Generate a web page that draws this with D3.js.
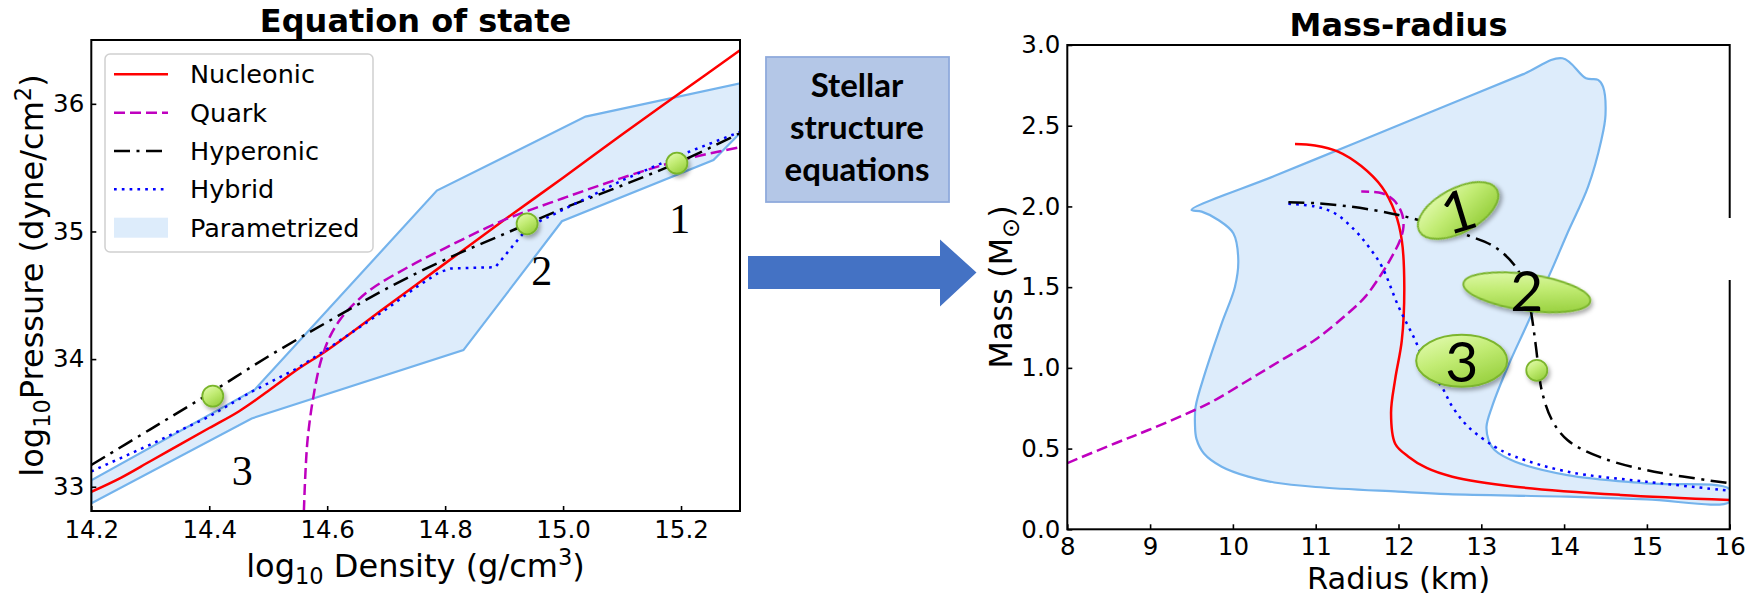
<!DOCTYPE html>
<html>
<head>
<meta charset="utf-8">
<script src="https://cdn.jsdelivr.net/npm/d3@7"></script>
<style>
  body { margin: 0; background: #ffffff; }
  svg { display: block; }
  text { font-family: "DejaVu Sans", sans-serif; fill: #000; }
</style>
</head>
<body>
<svg id="fig" width="1760" height="597"></svg>
<script>
// ---------- Equation of state: [log10 density (g/cm^3), log10 pressure (dyne/cm^2)] ----------
const eosTicksX = [14.2, 14.4, 14.6, 14.8, 15.0, 15.2];
const eosTicksY = [33, 34, 35, 36];

const nucleonicEoS = [[14.2, 32.96], [14.25, 33.07], [14.3, 33.2], [14.35, 33.33], [14.4, 33.46], [14.45, 33.59],
  [14.5, 33.75], [14.55, 33.92], [14.6, 34.07], [14.7, 34.41], [14.8, 34.75], [14.9, 35.09], [15.0, 35.42],
  [15.1, 35.76], [15.2, 36.09], [15.3, 36.42]];
const quarkEoS = [[14.5605, 32.81], [14.563, 33.1], [14.567, 33.38], [14.576, 33.69], [14.589, 33.98], [14.604, 34.17],
  [14.622, 34.31], [14.645, 34.43], [14.675, 34.55], [14.737, 34.72], [14.8, 34.87], [14.9, 35.09], [15.0, 35.26],
  [15.1, 35.42], [15.2, 35.56], [15.3, 35.66]];
const hyperonicEoS = [[14.2, 33.17], [14.3, 33.45], [14.4, 33.73], [14.5, 34.02], [14.6, 34.29], [14.7, 34.55],
  [14.8, 34.78], [14.9, 34.98], [15.0, 35.18], [15.1, 35.36], [15.2, 35.55], [15.3, 35.77]];
const hybridEoS = [[14.2, 33.12], [14.3, 33.33], [14.4, 33.55], [14.47, 33.74], [14.55, 33.93], [14.607, 34.1],
  [14.7, 34.39], [14.75, 34.56], [14.79, 34.68], [14.81, 34.71], [14.885, 34.72], [14.935, 35.0], [14.96, 35.08],
  [15.0, 35.17], [15.1, 35.4], [15.2, 35.6], [15.3, 35.78]];
const paramUpperEoS = [[14.2, 33.05], [14.477, 33.76], [14.786, 35.32], [15.038, 35.9], [15.3, 36.16]];
const paramLowerEoS = [[14.2, 32.87], [14.472, 33.535], [14.831, 34.07], [14.998, 35.08], [15.255, 35.56], [15.3, 35.77]];

const eosMarkers = [[14.406, 33.71], [14.939, 35.06], [15.193, 35.535]];
const eosMarkerLabels = ["3", "2", "1"];
const eosMarkerLabelPos = [[14.456, 33.014], [14.964, 34.58], [15.198, 34.985]];

// ---------- Mass-radius: [radius (km), mass (solar masses)] ----------
const mrTicksX = [8, 9, 10, 11, 12, 13, 14, 15, 16];
const mrTicksY = [0, 0.5, 1.0, 1.5, 2.0, 2.5, 3.0];

const nucleonicMR = [[10.75, 2.387], [10.99, 2.378], [11.27, 2.34], [11.55, 2.25], [11.8, 2.12], [11.96, 1.96],
  [12.04, 1.79], [12.07, 1.5], [12.04, 1.17], [11.96, 0.93], [11.91, 0.72], [11.96, 0.53], [12.12, 0.45],
  [12.34, 0.38], [12.65, 0.326], [13.41, 0.264], [14.68, 0.213], [16.0, 0.182]];
const quarkMR = [[8.0, 0.41], [8.58, 0.533], [8.98, 0.615], [9.54, 0.739], [9.8, 0.805], [10.19, 0.925],
  [10.59, 1.049], [10.99, 1.173], [11.39, 1.338], [11.6, 1.441], [11.8, 1.586], [11.92, 1.689], [12.02, 1.792],
  [12.06, 1.875], [12.04, 1.958], [11.94, 2.04], [11.8, 2.082], [11.55, 2.092]];
const hyperonicMR = [[10.67, 2.026], [11.0, 2.02], [11.4, 2.0], [11.8, 1.968], [12.0, 1.947], [12.24, 1.916],
  [12.55, 1.87], [12.84, 1.82], [13.16, 1.75], [13.41, 1.63], [13.55, 1.48], [13.6, 1.35], [13.66, 1.13],
  [13.69, 1.0], [13.73, 0.86], [13.85, 0.68], [14.04, 0.553], [14.42, 0.45], [14.99, 0.367], [16.0, 0.285]];
const hybridMR = [[10.67, 2.016], [10.99, 2.0], [11.23, 1.958], [11.47, 1.854], [11.64, 1.75], [11.8, 1.627],
  [12.0, 1.38], [12.2, 1.173], [12.36, 0.99], [12.52, 0.884], [12.65, 0.76], [12.84, 0.636], [13.16, 0.512],
  [13.41, 0.45], [14.04, 0.357], [14.99, 0.295], [16.0, 0.239]];
// outline of the parametrized region, traced clockwise from its left tip
const paramMR = [[9.5, 1.978], [10.5, 2.188], [11.5, 2.398], [12.5, 2.608], [13.5, 2.818], [13.98, 2.918],
  [14.264, 2.794], [14.41, 2.784], [14.47, 2.742], [14.5, 2.567], [14.45, 2.412], [14.29, 2.123], [14.04, 1.834],
  [13.85, 1.607], [13.54, 1.255], [13.32, 1.007], [13.13, 0.76], [13.063, 0.636], [13.09, 0.55], [13.16, 0.491],
  [13.41, 0.419], [14.04, 0.336], [14.99, 0.285], [16.0, 0.248], [16.0, 0.171], [15.0, 0.185], [14.04, 0.202],
  [12.6, 0.218], [12.0, 0.233], [11.0, 0.262], [10.5, 0.29], [10.186, 0.326], [9.865, 0.388], [9.65, 0.47],
  [9.56, 0.56], [9.542, 0.65], [9.55, 0.76], [9.663, 0.967], [9.865, 1.276], [10.025, 1.503], [10.065, 1.669],
  [10.005, 1.834], [9.824, 1.916], [9.623, 1.968]];

const mrCallouts = [[12.72, 1.975], [13.55, 1.468], [12.763, 1.044]];
const mrCalloutLabels = ["1", "2", "3"];
const mrDot = [13.67, 0.985];

const legendLabels = ["Nucleonic", "Quark", "Hyperonic", "Hybrid", "Parametrized"];

// ---------- styles ----------
const C = { red: "#ff0000", magenta: "#bf00bf", black: "#000000", blue: "#0000ff",
  bandFill: "#ddecfb", bandEdge: "#74b3ec" };
const LW = 2.5;
const DASH = { quark: "11,5", hyper: "16,6.5,3,6.5", hybrid: "2.7,5.1" };

const svg = d3.select("#fig");
const defs = svg.append("defs");

const grad = defs.append("linearGradient").attr("id", "lime")
  .attr("x1", "0.15").attr("y1", "0").attr("x2", "0.75").attr("y2", "1");
grad.append("stop").attr("offset", "0%").attr("stop-color", "#e3fbb0");
grad.append("stop").attr("offset", "45%").attr("stop-color", "#c2ec74");
grad.append("stop").attr("offset", "100%").attr("stop-color", "#96cf3c");

const shadow = defs.append("filter").attr("id", "shadow")
  .attr("x", "-30%").attr("y", "-30%").attr("width", "170%").attr("height", "170%");
shadow.append("feDropShadow").attr("dx", 2).attr("dy", 3).attr("stdDeviation", 2.2)
  .attr("flood-color", "#000").attr("flood-opacity", 0.33);

function styleAxis(g) {
  g.select(".domain").remove();
  g.selectAll(".tick line").attr("stroke", "#000").attr("stroke-width", 1.6);
  g.selectAll(".tick text").attr("font-family", "DejaVu Sans").attr("font-size", 24.5).attr("fill", "#000");
}

// =================== Panel 1: equation of state ===================
const xL = d3.scaleLinear().domain([14.2, 15.3]).range([91.3, 740]);
const yL = d3.scaleLinear().domain([32.81, 36.5]).range([511, 40]);

defs.append("clipPath").attr("id", "clipL").append("rect")
  .attr("x", xL.range()[0]).attr("y", yL.range()[1])
  .attr("width", xL.range()[1] - xL.range()[0]).attr("height", yL.range()[0] - yL.range()[1]);

const pL = svg.append("g").attr("clip-path", "url(#clipL)");
const lineL = d3.line().x(d => xL(d[0])).y(d => yL(d[1]));
const smoothL = d3.line().x(d => xL(d[0])).y(d => yL(d[1])).curve(d3.curveCatmullRom.alpha(0.5));

pL.append("path")
  .attr("d", lineL(paramUpperEoS.concat(paramLowerEoS.slice().reverse())) + "Z")
  .attr("fill", C.bandFill).attr("stroke", C.bandEdge).attr("stroke-width", 2.2);

const eosSeries = [
  { data: nucleonicEoS, color: C.red, dash: null, gen: smoothL },
  { data: quarkEoS, color: C.magenta, dash: DASH.quark, gen: smoothL },
  { data: hyperonicEoS, color: C.black, dash: DASH.hyper, gen: smoothL },
  { data: hybridEoS, color: C.blue, dash: DASH.hybrid, gen: lineL }
];
eosSeries.forEach(s => {
  pL.append("path").attr("d", s.gen(s.data)).attr("fill", "none")
    .attr("stroke", s.color).attr("stroke-width", LW)
    .attr("stroke-dasharray", s.dash);
});

svg.append("g").selectAll("circle").data(eosMarkers).join("circle")
  .attr("cx", d => xL(d[0])).attr("cy", d => yL(d[1])).attr("r", 10.5)
  .attr("fill", "url(#lime)").attr("stroke", "#79b52c").attr("stroke-width", 1.8)
  .attr("filter", "url(#shadow)");

svg.append("g").selectAll("text").data(eosMarkerLabelPos).join("text")
  .attr("x", d => xL(d[0])).attr("y", d => yL(d[1]))
  .attr("text-anchor", "middle").attr("font-size", 42)
  .style("font-family", "'Liberation Serif', serif")
  .text((d, i) => eosMarkerLabels[i]);

svg.append("g").attr("transform", `translate(0,${yL.range()[0]})`)
  .call(d3.axisBottom(xL).tickValues(eosTicksX).tickFormat(d3.format(".1f"))
    .tickSizeInner(-5).tickSizeOuter(0).tickPadding(10))
  .call(styleAxis);
svg.append("g").attr("transform", `translate(${xL.range()[0]},0)`)
  .call(d3.axisLeft(yL).tickValues(eosTicksY).tickFormat(d3.format("d"))
    .tickSizeInner(-5).tickSizeOuter(0).tickPadding(7))
  .call(styleAxis);

svg.append("rect").attr("x", xL.range()[0]).attr("y", yL.range()[1])
  .attr("width", xL.range()[1] - xL.range()[0]).attr("height", yL.range()[0] - yL.range()[1])
  .attr("fill", "none").attr("stroke", "#000").attr("stroke-width", 2);

// legend
const leg = svg.append("g");
leg.append("rect").attr("x", 105).attr("y", 54).attr("width", 268).attr("height", 198).attr("rx", 5)
  .attr("fill", "#fff").attr("fill-opacity", 0.9).attr("stroke", "#d0d0d0").attr("stroke-width", 1.5);
const legendStyles = [
  { color: C.red, dash: null }, { color: C.magenta, dash: DASH.quark },
  { color: C.black, dash: DASH.hyper }, { color: C.blue, dash: DASH.hybrid }, { patch: true }
];
legendLabels.forEach((lab, i) => {
  const by = 83.3 + i * 38.35;
  const st = legendStyles[i];
  if (st.patch) {
    leg.append("rect").attr("x", 114).attr("y", by - 19).attr("width", 54).attr("height", 20)
      .attr("fill", C.bandFill);
  } else {
    leg.append("line").attr("x1", 114).attr("x2", 168).attr("y1", by - 9).attr("y2", by - 9)
      .attr("stroke", st.color).attr("stroke-width", LW).attr("stroke-dasharray", st.dash);
  }
  leg.append("text").attr("x", 190).attr("y", by).attr("font-size", 25.5).text(lab);
});

// titles and axis labels
svg.append("text").attr("x", 415.5).attr("y", 32).attr("text-anchor", "middle")
  .attr("font-size", 32).attr("font-weight", "bold").text("Equation of state");

const xlabL = svg.append("text").attr("x", 415.5).attr("y", 577).attr("text-anchor", "middle").attr("font-size", 32);
xlabL.append("tspan").text("log");
xlabL.append("tspan").attr("font-size", 22.5).attr("dy", 7).text("10");
xlabL.append("tspan").attr("dy", -7).text(" Density (g/cm");
xlabL.append("tspan").attr("font-size", 22.5).attr("dy", -12).text("3");
xlabL.append("tspan").attr("dy", 12).text(")");

const ylabL = svg.append("text").attr("transform", "translate(43,275.5) rotate(-90)")
  .attr("text-anchor", "middle").attr("font-size", 32);
ylabL.append("tspan").text("log");
ylabL.append("tspan").attr("font-size", 22.5).attr("dy", 7).text("10");
ylabL.append("tspan").attr("dy", -7).text("Pressure (dyne/cm");
ylabL.append("tspan").attr("font-size", 22.5).attr("dy", -12).text("2");
ylabL.append("tspan").attr("dy", 12).text(")");

// =================== Middle: box and arrow ===================
svg.append("rect").attr("x", 766).attr("y", 57).attr("width", 183).attr("height", 145)
  .attr("fill", "#b4c7e7").attr("stroke", "#8faadc").attr("stroke-width", 1.8);
["Stellar", "structure", "equations"].forEach((t, i) => {
  svg.append("text").attr("x", 857).attr("y", 97 + i * 42).attr("text-anchor", "middle")
    .style("font-family", "Lato, 'Open Sans', sans-serif").attr("font-weight", "bold")
    .attr("font-size", 33).text(t);
});
svg.append("path")
  .attr("d", d3.line()([[748, 256], [940, 256], [940, 239.5], [976.5, 272.5], [940, 306.5], [940, 289], [748, 289]]) + "Z")
  .attr("fill", "#4472c4");

// =================== Panel 2: mass-radius ===================
const xR = d3.scaleLinear().domain([8, 16]).range([1067.3, 1729.7]);
const yR = d3.scaleLinear().domain([0, 3]).range([529.3, 45]);

defs.append("clipPath").attr("id", "clipR").append("rect")
  .attr("x", xR.range()[0]).attr("y", yR.range()[1])
  .attr("width", xR.range()[1] - xR.range()[0]).attr("height", yR.range()[0] - yR.range()[1]);

const pR = svg.append("g").attr("clip-path", "url(#clipR)");
const smoothR = d3.line().x(d => xR(d[0])).y(d => yR(d[1])).curve(d3.curveCatmullRom.alpha(0.5));
const closedR = d3.line().x(d => xR(d[0])).y(d => yR(d[1])).curve(d3.curveCatmullRomClosed.alpha(0.5));

pR.append("path").attr("d", closedR(paramMR))
  .attr("fill", C.bandFill).attr("stroke", C.bandEdge).attr("stroke-width", 2.2);

const mrSeries = [
  { data: nucleonicMR, color: C.red, dash: null },
  { data: quarkMR, color: C.magenta, dash: DASH.quark },
  { data: hybridMR, color: C.blue, dash: DASH.hybrid },
  { data: hyperonicMR, color: C.black, dash: DASH.hyper }
];
mrSeries.forEach(s => {
  pR.append("path").attr("d", smoothR(s.data)).attr("fill", "none")
    .attr("stroke", s.color).attr("stroke-width", LW).attr("stroke-dasharray", s.dash);
});

svg.append("g").attr("transform", `translate(0,${yR.range()[0]})`)
  .call(d3.axisBottom(xR).tickValues(mrTicksX).tickFormat(d3.format("d"))
    .tickSizeInner(-5).tickSizeOuter(0).tickPadding(8))
  .call(styleAxis);
svg.append("g").attr("transform", `translate(${xR.range()[0]},0)`)
  .call(d3.axisLeft(yR).tickValues(mrTicksY).tickFormat(d3.format(".1f"))
    .tickSizeInner(-5).tickSizeOuter(0).tickPadding(7))
  .call(styleAxis);

svg.append("rect").attr("x", xR.range()[0]).attr("y", yR.range()[1])
  .attr("width", xR.range()[1] - xR.range()[0]).attr("height", yR.range()[0] - yR.range()[1])
  .attr("fill", "none").attr("stroke", "#000").attr("stroke-width", 2);

// callout ovals over the stellar sequences
const calloutShape = [
  { rx: 44, ry: 22, rot: -28, trot: -17, dy: 21 },
  { rx: 64, ry: 18, rot: 8, trot: 0, dy: 19 },
  { rx: 45.5, ry: 26, rot: 0, trot: 0, dy: 21 }
];
mrCallouts.forEach((d, i) => {
  const cx = xR(d[0]), cy = yR(d[1]), sh = calloutShape[i];
  const g = svg.append("g").attr("transform", `translate(${cx},${cy})`);
  g.append("ellipse").attr("rx", sh.rx).attr("ry", sh.ry).attr("transform", `rotate(${sh.rot})`)
    .attr("fill", "url(#lime)").attr("stroke", "#7cb52e").attr("stroke-width", 2)
    .attr("filter", "url(#shadow)");
  g.append("text").attr("transform", `rotate(${sh.trot})`).attr("y", sh.dy).attr("text-anchor", "middle")
    .style("font-family", "Lato, 'Open Sans', sans-serif").attr("font-size", 57).text(mrCalloutLabels[i]);
});
svg.append("ellipse").attr("cx", xR(mrDot[0])).attr("cy", yR(mrDot[1])).attr("rx", 10.5).attr("ry", 10.5)
  .attr("fill", "url(#lime)").attr("stroke", "#7cb52e").attr("stroke-width", 1.8).attr("filter", "url(#shadow)");

// white strip cutting the right frame
svg.append("rect").attr("x", 1727).attr("y", 218).attr("width", 33).attr("height", 62).attr("fill", "#fff");

svg.append("text").attr("x", 1398.5).attr("y", 36).attr("text-anchor", "middle")
  .attr("font-size", 32).attr("font-weight", "bold").text("Mass-radius");
svg.append("text").attr("x", 1398.5).attr("y", 589).attr("text-anchor", "middle")
  .attr("font-size", 30.5).text("Radius (km)");
const ylabR = svg.append("text").attr("transform", "translate(1012,287) rotate(-90)")
  .attr("text-anchor", "middle").attr("font-size", 32);
ylabR.append("tspan").text("Mass (M");
ylabR.append("tspan").attr("font-size", 24).attr("dy", 7).text("\u2299");
ylabR.append("tspan").attr("dy", -7).text(")");
</script>
</body>
</html>
